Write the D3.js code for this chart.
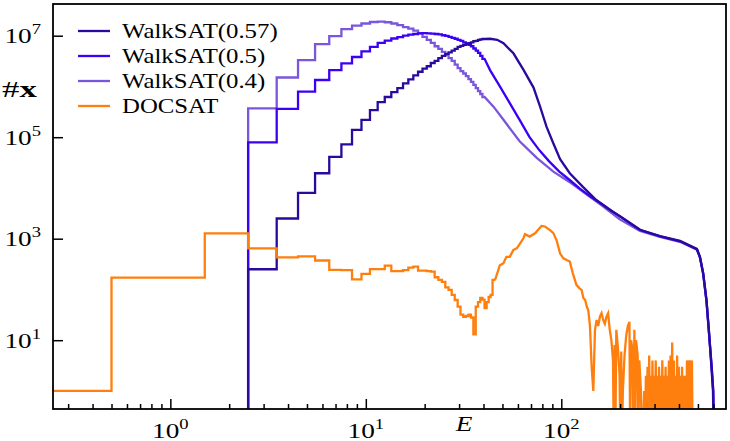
<!DOCTYPE html>
<html><head><meta charset="utf-8">
<script src="https://cdn.jsdelivr.net/npm/d3@7"></script>
<style>body{margin:0;background:#fff}svg{display:block}</style>
</head><body><svg id="c" width="730" height="441"></svg>
<script>
// ---------------- data ----------------
// integer-E histogram bins [E, count]
const walk057Bins = [[3,250],[4,2500],[5,8000],[6,1.95e4],[7,4.1e4],[8,7.2e4],[9,1.4e5],[10,2.2e5],[11,3.4e5],[12,4.9e5],[13,6.2e5],[14,7.7e5],[15,9.3e5],[16,1.15e6],[17,1.38e6],[18,1.66e6],[19,1.95e6],[20,2.24e6],[21,2.5e6],[22,2.9e6],[23,3.2e6],[24,3.6e6],[25,4.0e6],[26,4.4e6],[27,4.7e6],[28,5.1e6],[29,5.5e6],[30,6.0e6],[31,6.3e6],[32,6.6e6],[33,6.9e6],[34,7.1e6],[35,7.4e6],[36,7.8e6],[37,7.9e6],[38,8.3e6],[39,8.5e6],[40,8.6e6]];
const walk057Tail = [[43.2,8.7e6],[47,8.3e6],[50.6,7.1e6],[56.9,4.5e6],[64.2,2.1e6],[72.1,9.5e5],[77.9,4.0e5],[84.1,1.6e5],[91,7.6e4],[98.6,3.7e4],[110.5,1.95e4],[129,1.05e4],[151,5.8e3],[177,3.7e3],[199,2.8e3],[253,1500],[320,1130],[405,905],[494,630],[512,440],[532,210],[553,62],[570,14],[586,3],[597,1],[602,0]];
const walk05Bins = [[3,7.9e4],[4,3.6e5],[5,7.9e5],[6,1.34e6],[7,2.1e6],[8,2.86e6],[9,3.8e6],[10,4.9e6],[11,6.0e6],[12,7.2e6],[13,8.0e6],[14,8.8e6],[15,9.4e6],[16,1.0e7],[17,1.05e7],[18,1.08e7],[19,1.11e7],[20,1.12e7],[21,1.11e7],[22,1.1e7],[23,1.08e7],[24,1.06e7],[25,1.02e7],[26,9.9e6],[27,9.5e6],[28,9.1e6],[29,8.7e6],[30,8.3e6],[31,7.9e6],[32,7.4e6],[33,7.0e6],[34,6.6e6],[35,6.2e6],[36,5.6e6],[37,5.1e6],[38,4.6e6],[39,4.0e6],[40,3.5e6]];
const walk05Tail = [[43.2,2.1e6],[48.5,1.0e6],[54.5,4.7e5],[61.2,2.2e5],[68.8,1.0e5],[77.3,5.5e4],[86.9,3.3e4],[97.7,2.1e4],[110,1.45e4],[124,9.8e3],[140,6.9e3],[164,4.6e3],[199,2.75e3],[253,1480],[320,1110],[405,890],[494,620],[512,430],[532,205],[553,60],[570,14],[588,3],[599,1],[604,0]];
const walk04Bins = [[3,3.7e5],[4,1.5e6],[5,3.3e6],[6,6.8e6],[7,9.8e6],[8,1.35e7],[9,1.58e7],[10,1.74e7],[11,1.86e7],[12,1.9e7],[13,1.84e7],[14,1.74e7],[15,1.62e7],[16,1.48e7],[17,1.38e7],[18,1.26e7],[19,1.12e7],[20,9.5e6],[21,8.3e6],[22,7.2e6],[23,6.2e6],[24,5.5e6],[25,4.8e6],[26,4.2e6],[27,3.6e6],[28,3.2e6],[29,2.7e6],[30,2.3e6],[31,2.0e6],[32,1.8e6],[33,1.6e6],[34,1.4e6],[35,1.23e6],[36,1.07e6],[37,9.3e5],[38,8.1e5],[39,7.1e5],[40,6.2e5]];
const walk04Tail = [[45,4.0e5],[50.6,2.2e5],[61.2,8.3e4],[74.9,3.9e4],[91.1,2.1e4],[110.5,1.3e4],[134,7.6e3],[164,4.3e3],[199,2.4e3],[253,1420],[320,1080],[405,870],[494,610],[512,430],[532,200],[553,58],[570,13],[588,3],[599,1],[605,0]];
const docsatBins = [[0,1],[1,171],[2,1276],[3,646],[4,430],[5,447],[6,372],[7,242],[8,240],[9,158],[10,202],[11,251],[12,251],[13,295],[14,229],[15,229],[16,240],[17,269],[18,282],[19,234],[20,234],[21,229],[22,224],[23,174],[24,155],[25,141],[26,110],[27,98],[28,78],[29,62],[30,46],[31,32],[32,29],[33,30],[34,32],[35,28],[36,13],[37,46],[38,56],[39,68],[40,63],[41,43],[42,56],[43,71],[44,78],[45,155]];
const docsatTail = [[46,160],[48.5,300],[50.6,330],[52.4,440],[54.5,440],[56.9,600],[59.3,650],[61.6,810],[64,1020],[65.2,1230],[68.9,1100],[73.7,1290],[76.5,1530],[79.3,1780],[82.5,1740],[87.6,1480],[91.1,1290],[94.6,930],[98.6,510],[102.5,410],[106.5,380],[110.5,355],[114.5,210],[119.5,123],[124,105],[127,98],[129.7,68],[132.5,62],[135,46],
 [137.4,39],[140.2,19],[143,3],[145.8,1],[148.7,16],[151.6,25],[154.5,19],[157.6,29],[160.7,34],[163.8,25],[167,21],[170.3,29],[173.6,34],[177,16],[180.4,10],[183.9,4],[185.5,0],[187.5,8],[189,0],[191.2,16],[194.9,7],[198.7,2],[200.5,0],[202.6,6],[204.5,0],[206.5,1],[210.6,5],[214.7,12],[218.9,19],[223.2,23],[225,0],[227.5,10],[232,6],[234,0],[236.5,16],[238.8,0],[241.2,10],[245.9,5],[248,0],[250.7,4],[255.6,1],[258,0],[260.6,0],[265.7,1],[268,0],[270.9,2],[273.5,0],[276.2,3],[279,0],[281.6,5],[284.3,0],[287.1,2],[290,0],[292.7,4],[295.5,0],[298.4,2],[301,0],[304.2,4],[307,0],[310.2,2],[313,0],[316.3,3],[319,0],[322.4,2],[325.5,0],[328.7,4],[332,0],[335.2,2],[338.5,0],[341.7,3],[345,0],[348.4,2],[351.8,0],[355.2,4],[358.7,0],[362.2,5],[365.7,0],[369.2,9],[372.8,0],[376.4,4],[380,0],[383.8,2],[387.5,0],[391.3,5],[395,0],[399,3],[403,0],[406.8,2],[410.7,0],[414.7,3],[418.7,0],[422.8,2],[427,0],[431.1,2],[435.3,0],[439.5,4],[443.8,0],[448.1,4],[452.5,0],[456.9,4],[461.3,0],[465.8,4],[470,0]];

const seriesNames = ["WalkSAT(0.57)","WalkSAT(0.5)","WalkSAT(0.4)","DOCSAT"];
const seriesColors = ["#2a0a9c","#3c00f5","#7a56dc","#ff7f0e"];
const xMajorTicks = [1,10,100];
const xMinorTicks = [0.3,0.4,0.5,0.6,0.7,0.8,0.9,2,3,4,5,6,7,8,9,20,30,40,50,60,70,80,90,200,300,400,500,600];
const yTicks = [10,1e3,1e5,1e7];
const xDomain = [0.251, 696];
const yDomain = [0.4407, 4.213e7];

// ---------------- chart ----------------
const svg = d3.select("#c");
const L = 53, R = 726, T = 4, B = 409;
const x = d3.scaleLog().domain(xDomain).range([L, R]);
const y = d3.scaleLog().domain(yDomain).range([B, T]);
const FONT = "'Liberation Serif', 'Times New Roman', serif";
const SX = 1.24;

svg.append("defs").append("clipPath").attr("id","clip")
  .append("rect").attr("x",L).attr("y",T).attr("width",R-L).attr("height",B-T);

function pts(bins, tail, startEdge){
  const p = [];
  if (startEdge != null) p.push([startEdge, 0]);
  bins.forEach(([e,v]) => { p.push([e-0.5, v]); p.push([e+0.5, v]); });
  tail.forEach(d => p.push(d));
  return p;
}
const xv = e => e > 0 ? x(e) : L - 30;
const yv = v => v > 0 ? y(v) : B + 30;
const line = d3.line().x(d => xv(d[0])).y(d => yv(d[1]));

const series = [
  {name: seriesNames[2], color: seriesColors[2], p: pts(walk04Bins, walk04Tail, 2.5)},
  {name: seriesNames[1], color: seriesColors[1], p: pts(walk05Bins, walk05Tail, 2.5)},
  {name: seriesNames[0], color: seriesColors[0], p: pts(walk057Bins, walk057Tail, 2.5)},
  {name: seriesNames[3], color: seriesColors[3], p: pts(docsatBins, docsatTail, null)}
];
const plot = svg.append("g").attr("clip-path","url(#clip)");
series.forEach(s => {
  plot.append("path").attr("d", line(s.p)).attr("fill","none")
    .attr("stroke", s.color).attr("stroke-width", 2.3).attr("stroke-linejoin","miter");
});

// axes (ticks inward)
const gx = svg.append("g").attr("transform",`translate(0,${B})`);
gx.call(d3.axisBottom(x).tickValues(xMajorTicks).tickSize(-10).tickFormat(""));
gx.append("g").call(d3.axisBottom(x).tickValues(xMinorTicks).tickSize(-5).tickFormat(""));
const gy = svg.append("g").attr("transform",`translate(${L},0)`);
gy.call(d3.axisLeft(y).tickValues(yTicks).tickSize(-10).tickFormat(""));
svg.selectAll(".domain").remove();
svg.selectAll(".tick line").attr("stroke","#000").attr("stroke-width",1.5);

// frame
svg.append("rect").attr("x",L).attr("y",T).attr("width",R-L).attr("height",B-T)
  .attr("fill","none").attr("stroke","#000").attr("stroke-width",1.8);

function sciText(px, py, exp, anchor){
  const g = svg.append("g").attr("transform",`translate(${px},${py}) scale(${SX},1)`);
  const t = g.append("text").attr("font-family",FONT).attr("font-size",22)
    .attr("text-anchor",anchor).attr("fill","#000");
  t.append("tspan").text("10");
  t.append("tspan").attr("dy",-9).attr("font-size",15).text(String(exp));
}
xMajorTicks.forEach(v => sciText(x(v), 438, Math.round(Math.log10(v)), "middle"));
yTicks.forEach(v => sciText(41, y(v)+7.5, Math.round(Math.log10(v)), "end"));

// axis labels
const yl = svg.append("g").attr("transform",`translate(2,97) scale(1.45,1)`);
const ylt = yl.append("text").attr("font-family",FONT).attr("font-size",24).attr("fill","#000");
ylt.append("tspan").text("#");
ylt.append("tspan").attr("font-weight","bold").text("x");
svg.append("g").attr("transform",`translate(464,431) scale(${SX},1)`)
  .append("text").attr("font-family",FONT).attr("font-size",22).attr("font-style","italic")
  .attr("text-anchor","middle").text("E");

// legend
seriesNames.forEach((n,i) => {
  const cy = 31 + i*25;
  svg.append("line").attr("x1",78).attr("x2",110).attr("y1",cy).attr("y2",cy)
    .attr("stroke",seriesColors[i]).attr("stroke-width",2.3);
  svg.append("g").attr("transform",`translate(122,${cy+6.5}) scale(${SX},1)`)
    .append("text").attr("font-family",FONT).attr("font-size",20).attr("fill","#000").text(n);
});
</script></body></html>
